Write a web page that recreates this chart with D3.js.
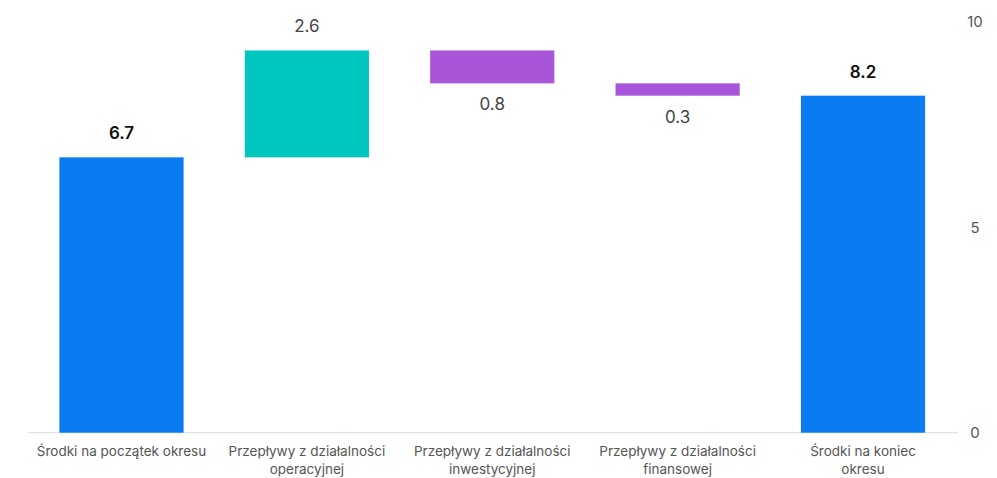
<!DOCTYPE html>
<html>
    <head>
        <meta charset="utf-8">
        <script src="https://cdn.jsdelivr.net/npm/d3@7"></script>
        <style>
            body {
                margin:0;
                background:#fff;
                font-family:Inter, "Noto Sans", sans-serif;
            }
            .cat {
                font-size:13.5px;
                fill:#555;
            }
            .tick-label {
                font-size:15px;
                fill:#555;
            }
        </style>
    </head>
    <body>
        <svg id="chart" width="997" height="478"></svg>
        <script>
            // waterfall data
            var categories = [
                "Środki na początek okresu",
                "Przepływy z działalności\noperacyjnej",
                "Przepływy z działalności\ninwestycyjnej",
                "Przepływy z działalności\nfinansowej",
                "Środki na koniec\nokresu"
            ];
            var values = [6.7, 2.6, -0.8, -0.3, 8.2];
            var kinds = ["total", "up", "down", "down", "total"];
            var yTicks = [0, 5, 10];

            var colors = {total:"#0a7bf0", up:"#00c7be", down:"#a855d9"};

            // running totals -> start/end for each bar
            var rows = [];
            var running = 0;
            for (var i=0; i<values.length; i++) {
                var r = {cat:categories[i], value:values[i], kind:kinds[i]};
                if (kinds[i] === "total") {
                    r.y0 = 0; r.y1 = values[i];
                    running = values[i];
                } else {
                    r.y0 = running; r.y1 = running + values[i];
                    running = r.y1;
                }
                rows.push(r);
            }

            var svg = d3.select("#chart");

            var x = d3.scaleBand()
                .domain(categories)
                .range([28.8, 955.7])
                .paddingInner(0.33)
                .paddingOuter(0.165);

            var y = d3.scaleLinear()
                .domain([0, 10])
                .range([432.7, 21.7]);

            // baseline
            svg.append("line")
                .attr("x1", 28).attr("x2", 958)
                .attr("y1", y(0)).attr("y2", y(0))
                .attr("stroke", "#dcdcdc")
                .attr("stroke-width", 1);

            // right axis labels
            svg.selectAll(".tick-label")
                .data(yTicks)
                .enter().append("text")
                .attr("class", "tick-label")
                .attr("x", 975)
                .attr("y", function(d){ return y(d); })
                .attr("text-anchor", "middle")
                .attr("dominant-baseline", "central")
                .text(function(d){ return d; });

            svg.selectAll("rect.bar")
                .data(rows)
                .enter().append("rect")
                .attr("class", "bar")
                .attr("x", function(d){ return x(d.cat); })
                .attr("width", x.bandwidth())
                .attr("y", function(d){ return y(Math.max(d.y0, d.y1)); })
                .attr("height", function(d){ return Math.abs(y(d.y0) - y(d.y1)); })
                .attr("fill", function(d){ return colors[d.kind]; });

            // value labels
            svg.selectAll("text.val")
                .data(rows)
                .enter().append("text")
                .attr("class", "val")
                .attr("x", function(d){ return x(d.cat) + x.bandwidth()/2; })
                .attr("y", function(d){
                    if (d.kind === "down") return y(Math.min(d.y0, d.y1)) + 21;
                    return y(Math.max(d.y0, d.y1)) - 24;
                })
                .attr("text-anchor", "middle")
                .attr("dominant-baseline", "central")
                .attr("font-size", "17px")
                .attr("font-weight", function(d){ return d.kind === "total" ? 600 : 400; })
                .attr("fill", function(d){ return d.kind === "total" ? "#111" : "#444"; })
                .text(function(d){ return d3.format(".1f")(Math.abs(d.value)); });

            // category labels
            var cats = svg.selectAll("text.cat")
                .data(rows)
                .enter().append("text")
                .attr("class", "cat")
                .attr("text-anchor", "middle")
                .attr("x", function(d){ return x(d.cat) + x.bandwidth()/2; })
                .attr("y", 451)
                .attr("dominant-baseline", "central");
            cats.selectAll("tspan")
                .data(function(d){ return d.cat.split("\n").map(function(t){ return {t:t, x:x(d.cat) + x.bandwidth()/2}; }); })
                .enter().append("tspan")
                .attr("x", function(d){ return d.x; })
                .attr("dy", function(d, i){ return i === 0 ? 0 : 18; })
                .text(function(d){ return d.t; });
        </script>
    </body>
</html>
